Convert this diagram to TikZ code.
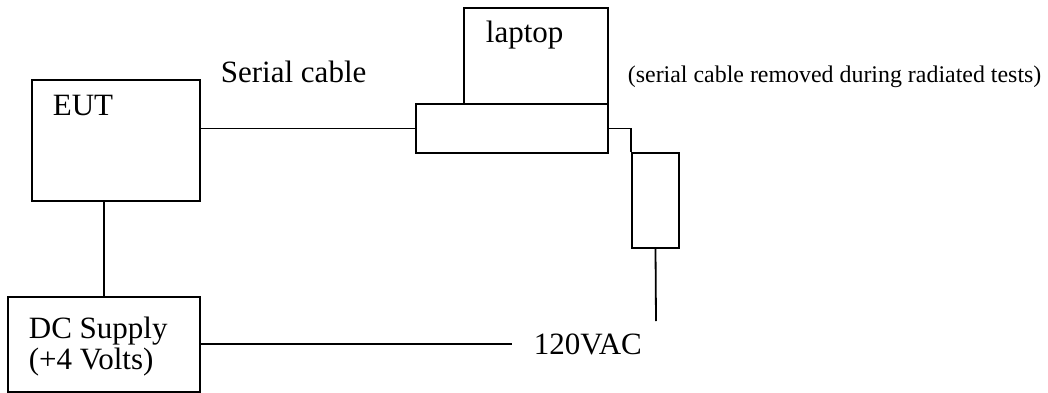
\documentclass[tikz,border=0pt]{standalone}
\usepackage{fontspec}
\setmainfont{Liberation Serif}
\usepackage{tikz}

\begin{document}
\begin{tikzpicture}[x=1pt,y=-1pt,line width=1.8pt,every node/.style={font=\fontsize{31}{31}\selectfont,inner sep=0pt},box/.style={draw,rectangle,line width=2.2pt},note/.style={font=\fontsize{23.9}{23.9}\selectfont}]
\useasboundingbox (0,0) rectangle (1048,393);
\node[box,minimum width=168pt,minimum height=121pt] (eut) at (116,140.5) {};
\node[anchor=base west] (eutlabel) at (52,115) {EUT};
\node[box,minimum width=144pt,minimum height=96pt] (laptop) at (536,56) {};
\node[anchor=base west] (laptoplabel) at (485,43) {laptop};
\node[box,minimum width=192pt,minimum height=49pt] (dock) at (512,128.5) {};
\node[box,minimum width=47pt,minimum height=95pt] (adapter) at (655.5,200.5) {};
\node[box,minimum width=192pt,minimum height=95pt] (dc) at (104,344.5) {};
\node[anchor=north west,align=left] (dclabel) at (28,316) {DC Supply\\(+4 Volts)};
\node[anchor=base west] (cablelabel) at (220,83) {Serial cable};
\node[note,anchor=base west] (removed) at (627,83) {(serial cable removed during radiated tests)};
\node[anchor=west,inner xsep=21pt] (vac) at (512,344) {120VAC};
\coordinate (plug) at (656,321);
\draw (eut.east |- dock.west)--(dock.west);
\draw (dc.north |- eut.south)--(dc.north);
\draw (dock.east) -| (adapter.north west);
\draw (adapter.south)--(plug);
\draw (dc.east |- vac.west)--(vac.west);
\end{tikzpicture}
\end{document}
